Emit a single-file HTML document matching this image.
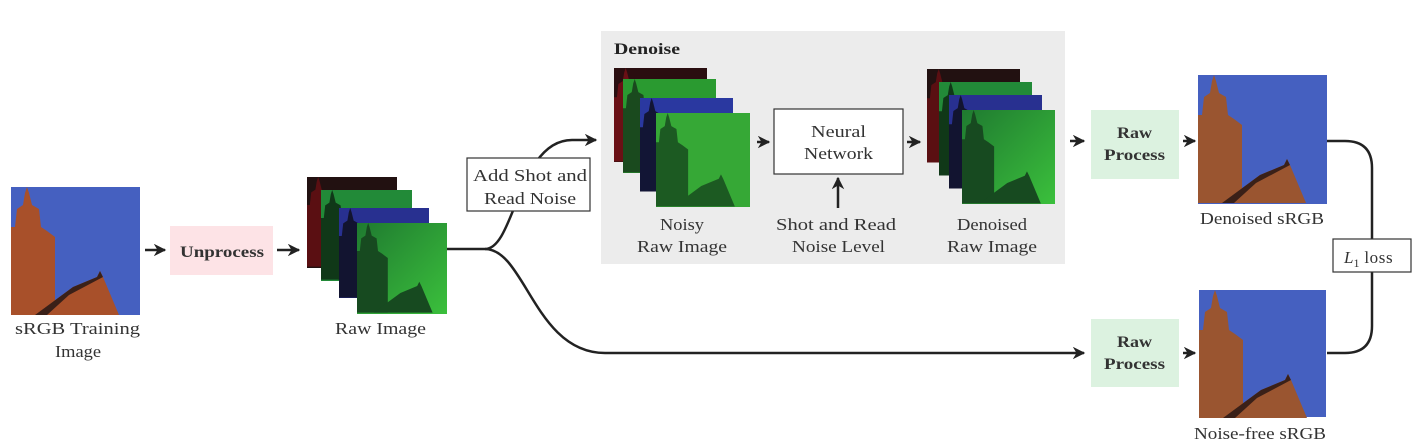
<!DOCTYPE html>
<html><head><meta charset="utf-8"><style>
body{margin:0;background:#fff;}
svg{display:block;font-family:"Liberation Serif",serif;}
</style></head><body>
<svg width="1417" height="448" viewBox="0 0 1417 448" xmlns="http://www.w3.org/2000/svg">
<defs>
<g id="bld">
<polygon points="0,40 4,40 6,22 12,18 14,6 16,0 18,6 21,18 28,22 30,40 36,44 44,50 44,128 0,128"/>
<polygon points="24,128 62,100 86,90 89,84 92,90 108,128"/>
</g>
<g id="roof"><polygon points="24,128 62,100 86,90 89,84 92,90 58,108 36,128" fill="#3a2018"/></g>
<marker id="ah" viewBox="0 0 10 10" refX="9" refY="5" markerWidth="5" markerHeight="5" orient="auto"><path d="M0,0 L10,5 L0,10 L3,5 z" fill="#222"/></marker>
<linearGradient id="gg" x1="0" y1="0" x2="1" y2="1"><stop offset="0" stop-color="#1f7a30"/><stop offset="1" stop-color="#3bc03c"/></linearGradient>
</defs>
<rect x="601" y="31" width="464" height="233" fill="#ececec"/>
<text x="614" y="54" font-size="16" font-weight="bold" fill="#222" textLength="66" lengthAdjust="spacingAndGlyphs">Denoise</text>

<!-- sRGB training -->
<rect x="11" y="187" width="129" height="128" fill="#4560c0"/>
<use href="#bld" x="11" y="187" fill="#a8502a"/><use href="#roof" x="11" y="187"/>
<text x="15" y="334" font-size="17" fill="#333" textLength="125" lengthAdjust="spacingAndGlyphs">sRGB Training</text>
<text x="55" y="357" font-size="17" fill="#333" textLength="46" lengthAdjust="spacingAndGlyphs">Image</text>

<path d="M145,250 H165" stroke="#222" stroke-width="2.5" marker-end="url(#ah)"/>
<rect x="170" y="226" width="103" height="49" fill="#fde3e6"/>
<text x="180" y="257" font-size="16" font-weight="bold" fill="#333" textLength="84" lengthAdjust="spacingAndGlyphs">Unprocess</text>
<path d="M277,250 H299" stroke="#222" stroke-width="2.5" marker-end="url(#ah)"/>

<!-- raw stack -->
<rect x="307" y="177" width="90" height="91" fill="#221111"/><use href="#bld" transform="translate(307,177) scale(0.7)" fill="#5a0f12"/>
<rect x="321" y="190" width="91" height="91" fill="#228a38"/><use href="#bld" transform="translate(321,190) scale(0.7)" fill="#103818"/>
<rect x="339" y="208" width="90" height="90" fill="#283090"/><use href="#bld" transform="translate(339,208) scale(0.7)" fill="#121430"/>
<rect x="357" y="223" width="90" height="91" fill="url(#gg)"/><use href="#bld" transform="translate(357,223) scale(0.7)" fill="#174a20"/>
<text x="335" y="334" font-size="17" fill="#333" textLength="91" lengthAdjust="spacingAndGlyphs">Raw Image</text>

<!-- connectors -->
<path d="M447,249 H485 C515,249 518,140 572,140 H596" fill="none" stroke="#222" stroke-width="2.5" marker-end="url(#ah)"/>
<path d="M485,249 C525,249 535,353 605,353 H1084" fill="none" stroke="#222" stroke-width="2.5" marker-end="url(#ah)"/>
<rect x="467" y="158" width="123" height="53" fill="#fff" stroke="#333" stroke-width="1.2"/>
<text x="473" y="181" font-size="17" fill="#333" textLength="114" lengthAdjust="spacingAndGlyphs">Add Shot and</text>
<text x="484" y="204" font-size="17" fill="#333" textLength="92" lengthAdjust="spacingAndGlyphs">Read Noise</text>

<!-- noisy stack -->
<rect x="614" y="68" width="93" height="94" fill="#2a0e10"/><use href="#bld" transform="translate(614,68) scale(0.73)" fill="#6a1015"/>
<rect x="623" y="79" width="93" height="94" fill="#2a9a30"/><use href="#bld" transform="translate(623,79) scale(0.73)" fill="#1a4a1e"/>
<rect x="640" y="98" width="93" height="92" fill="#2a38a0"/><use href="#bld" transform="translate(640,98) scale(0.73)" fill="#121535"/>
<rect x="656" y="113" width="94" height="94" fill="#36a836"/><use href="#bld" transform="translate(656,113) scale(0.73)" fill="#1c5a22"/>
<text x="660" y="230" font-size="17" fill="#333" textLength="44" lengthAdjust="spacingAndGlyphs">Noisy</text>
<text x="637" y="252" font-size="17" fill="#333" textLength="90" lengthAdjust="spacingAndGlyphs">Raw Image</text>

<path d="M757,142 H769" stroke="#222" stroke-width="2.5" marker-end="url(#ah)"/>
<rect x="774" y="109" width="129" height="65" fill="#fff" stroke="#333" stroke-width="1.2"/>
<text x="811" y="137" font-size="17" fill="#333" textLength="55" lengthAdjust="spacingAndGlyphs">Neural</text>
<text x="804" y="159" font-size="17" fill="#333" textLength="69" lengthAdjust="spacingAndGlyphs">Network</text>
<path d="M838,208 V178" stroke="#222" stroke-width="2.5" marker-end="url(#ah)"/>
<text x="776" y="230" font-size="17" fill="#333" textLength="120" lengthAdjust="spacingAndGlyphs">Shot and Read</text>
<text x="792" y="252" font-size="17" fill="#333" textLength="93" lengthAdjust="spacingAndGlyphs">Noise Level</text>
<path d="M907,142 H920" stroke="#222" stroke-width="2.5" marker-end="url(#ah)"/>

<!-- denoised stack -->
<rect x="927" y="69" width="93" height="93" fill="#221111"/><use href="#bld" transform="translate(927,69) scale(0.73)" fill="#5a0f12"/>
<rect x="939" y="82" width="93" height="93" fill="#228a38"/><use href="#bld" transform="translate(939,82) scale(0.73)" fill="#103818"/>
<rect x="949" y="95" width="93" height="93" fill="#283090"/><use href="#bld" transform="translate(949,95) scale(0.73)" fill="#121430"/>
<rect x="962" y="110" width="93" height="94" fill="url(#gg)"/><use href="#bld" transform="translate(962,110) scale(0.73)" fill="#174a20"/>
<text x="957" y="230" font-size="17" fill="#333" textLength="70" lengthAdjust="spacingAndGlyphs">Denoised</text>
<text x="947" y="252" font-size="17" fill="#333" textLength="90" lengthAdjust="spacingAndGlyphs">Raw Image</text>

<path d="M1070,141 H1084" stroke="#222" stroke-width="2.5" marker-end="url(#ah)"/>
<rect x="1091" y="110" width="88" height="69" fill="#dcf2e0"/>
<text x="1117" y="138" font-size="16" font-weight="bold" fill="#333" textLength="35" lengthAdjust="spacingAndGlyphs">Raw</text>
<text x="1104" y="160" font-size="16" font-weight="bold" fill="#333" textLength="61" lengthAdjust="spacingAndGlyphs">Process</text>
<path d="M1183,141 H1195" stroke="#222" stroke-width="2.5" marker-end="url(#ah)"/>

<rect x="1091" y="319" width="88" height="68" fill="#dcf2e0"/>
<text x="1117" y="347" font-size="16" font-weight="bold" fill="#333" textLength="35" lengthAdjust="spacingAndGlyphs">Raw</text>
<text x="1104" y="369" font-size="16" font-weight="bold" fill="#333" textLength="61" lengthAdjust="spacingAndGlyphs">Process</text>
<path d="M1183,353 H1195" stroke="#222" stroke-width="2.5" marker-end="url(#ah)"/>

<rect x="1198" y="75" width="129" height="129" fill="#4560c0"/>
<use href="#bld" x="1198" y="75" fill="#9a5530"/><use href="#roof" x="1198" y="75"/>
<text x="1200" y="224" font-size="17" fill="#333" textLength="124" lengthAdjust="spacingAndGlyphs">Denoised sRGB</text>
<rect x="1199" y="290" width="127" height="127" fill="#4560c0"/>
<use href="#bld" x="1199" y="290" fill="#9a5530"/><use href="#roof" x="1199" y="290"/>
<text x="1194" y="439" font-size="17" fill="#333" textLength="132" lengthAdjust="spacingAndGlyphs">Noise-free sRGB</text>

<path d="M1327,141 H1345 Q1372,141 1372,168 V326 Q1372,353 1345,353 H1327" fill="none" stroke="#222" stroke-width="2.5"/>
<rect x="1333" y="239" width="78" height="33" fill="#fff" stroke="#333" stroke-width="1.2"/>
<text x="1344" y="263" font-size="17" fill="#333"><tspan font-style="italic">L</tspan><tspan font-size="12" dy="4">1</tspan><tspan dy="-4" letter-spacing="0.6"> loss</tspan></text>
</svg>
</body></html>
